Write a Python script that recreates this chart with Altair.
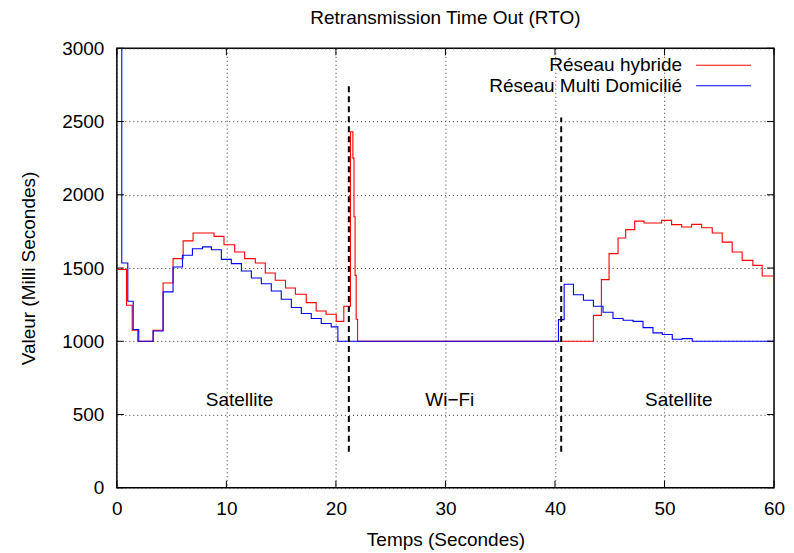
import altair as alt
import pandas as pd

# ---- data ----
hyb_t = [0, 0.88, 1.4, 1.91, 3.31, 4.22, 5.13, 6.05, 6.96, 8.87, 9.78, 10.76, 11.67, 12.64, 13.55,
         14.46, 15.4, 16.3, 17.29, 18.2, 19.1, 20.03, 20.72, 21.33, 21.55, 21.65, 21.75, 21.85, 21.98,
         43.51, 44.24, 44.94, 45.76, 46.46, 47.28, 48.13, 49.74, 50.65, 51.57, 52.48, 53.39, 54.36,
         55.27, 56.18, 57.09, 58.07, 58.92, 59.98, 60]
hyb_v = [1490, 1246, 1075, 1000, 1075, 1398, 1564, 1685, 1739, 1716, 1659, 1609, 1564, 1534, 1466,
         1416, 1364, 1321, 1264, 1207, 1184, 1136, 1239, 2430, 2250, 1850, 1450, 1150, 1000,
         1177, 1421, 1598, 1705, 1762, 1820, 1807, 1825, 1796, 1780, 1798, 1775, 1739,
         1677, 1609, 1552, 1518, 1445, 1393, 1393]

multi_t = [0, 0.45, 1.0, 1.49, 2.0, 3.31, 4.22, 5.13, 5.99, 6.9, 7.81, 8.63, 9.54, 10.45, 11.37,
           12.28, 13.19, 14.1, 15.01, 15.93, 16.84, 17.75, 18.66, 19.57, 20.18,
           40.32, 40.84, 41.69, 42.6, 43.51, 44.39, 45.3, 46.22, 47.13, 48.04, 48.95, 49.8,
           50.71, 51.62, 52.53, 60]
multi_v = [3500, 1534, 1273, 1080, 1000, 1070, 1337, 1507, 1587, 1632, 1644, 1625, 1559, 1530, 1480,
           1432, 1393, 1343, 1287, 1230, 1189, 1155, 1121, 1098, 1000,
           1148, 1389, 1318, 1280, 1239, 1198, 1155, 1143, 1136, 1093, 1057, 1046,
           1014, 1018, 1000, 1000]

series_names = ["Réseau hybride", "Réseau Multi Domicilié"]
series_colors = ["#ff0000", "#0000ff"]

handover_t = [21.18, 40.57]
handover_top = [2746, 2527]
handover_bottom = [245, 245]

zone_labels = ["Satellite", "Wi\u2212Fi", "Satellite"]
zone_t = [11.2, 30.4, 51.3]
zone_v = [600, 600, 600]

x_ticks = [0, 10, 20, 30, 40, 50, 60]
y_ticks = [0, 500, 1000, 1500, 2000, 2500, 3000]

FONT = "Liberation Sans"
W, H = 658, 440

lines_df = pd.concat([
    pd.DataFrame({"t": hyb_t, "v": hyb_v, "s": series_names[0]}),
    pd.DataFrame({"t": multi_t, "v": multi_v, "s": series_names[1]}),
])

xs = alt.Scale(domain=[0, 60], nice=False)
ys = alt.Scale(domain=[0, 3000], nice=False)

xaxis = alt.Axis(values=x_ticks, title="Temps (Secondes)", grid=True, ticks=False, domain=False,
                 format="d", labelPadding=12, titlePadding=12, labelFlush=False)
yaxis = alt.Axis(values=y_ticks, title="Valeur (Milli Secondes)", grid=True, ticks=False, domain=False,
                 format="d", labelPadding=13, titlePadding=23, labelFlush=False)

hyb = alt.Chart(lines_df[lines_df.s == series_names[0]]).mark_line(
    interpolate="step-after", strokeWidth=1.1, clip=True, color=series_colors[0]
).encode(
    x=alt.X("t:Q", scale=xs, axis=xaxis),
    y=alt.Y("v:Q", scale=ys, axis=yaxis),
)
multi = alt.Chart(lines_df[lines_df.s == series_names[1]]).mark_line(
    interpolate="step-after", strokeWidth=1.1, clip=True, color=series_colors[1]
).encode(x=alt.X("t:Q", scale=xs), y=alt.Y("v:Q", scale=ys))

ho_df = pd.DataFrame({"t": handover_t, "top": handover_top, "bot": handover_bottom})
handover = alt.Chart(ho_df).mark_rule(color="black", strokeWidth=2, strokeDash=[6, 4]).encode(
    x=alt.X("t:Q", scale=xs), y=alt.Y("bot:Q", scale=ys), y2="top:Q"
)

zone_df = pd.DataFrame({"lab": zone_labels, "t": zone_t, "v": zone_v})
zones = alt.Chart(zone_df).mark_text(font=FONT, fontSize=19, color="black").encode(
    x=alt.X("t:Q", scale=xs), y=alt.Y("v:Q", scale=ys), text="lab:N"
)

# inner (gnuplot-style) tick marks
xt_df = pd.DataFrame({"t": x_ticks})
yt_df = pd.DataFrame({"v": y_ticks})
xt_bottom = alt.Chart(xt_df).mark_rule(color="black", strokeWidth=1).encode(
    x=alt.X("t:Q", scale=xs), y=alt.value(H), y2=alt.value(H - 7))
xt_top = alt.Chart(xt_df).mark_rule(color="black", strokeWidth=1).encode(
    x=alt.X("t:Q", scale=xs), y=alt.value(0), y2=alt.value(7))
yt_left = alt.Chart(yt_df).mark_rule(color="black", strokeWidth=1).encode(
    y=alt.Y("v:Q", scale=ys), x=alt.value(0), x2=alt.value(7))
yt_right = alt.Chart(yt_df).mark_rule(color="black", strokeWidth=1).encode(
    y=alt.Y("v:Q", scale=ys), x=alt.value(W), x2=alt.value(W - 7))

# legend (gnuplot style: label then line sample)
leg_df = pd.DataFrame({"s": series_names, "c": series_colors, "ypix": [17, 37.5]})
leg_text = alt.Chart(leg_df).mark_text(font=FONT, fontSize=19, align="right", baseline="middle",
                                       color="black").encode(
    x=alt.value(566), y=alt.Y("ypix:Q", scale=None), text="s:N")
leg_lines = alt.Chart(leg_df).mark_rule(strokeWidth=1.1).encode(
    x=alt.value(580), x2=alt.value(635), y=alt.Y("ypix:Q", scale=None),
    color=alt.Color("c:N", scale=None))

chart = alt.layer(
    hyb, multi, handover, zones, xt_bottom, xt_top, yt_left, yt_right, leg_text, leg_lines
).properties(
    width=W, height=H,
    background="white",
    title=alt.Title("Retransmission Time Out (RTO)", font=FONT, fontSize=19, fontWeight="normal",
                    color="black", offset=11),
    autosize=alt.AutoSizeParams(type="none"),
    padding={"left": 109, "top": 40, "right": 12, "bottom": 65},
).configure_view(
    stroke="black", strokeWidth=1.5
).configure_axis(
    labelFont=FONT, labelFontSize=19, labelColor="black",
    titleFont=FONT, titleFontSize=19, titleFontWeight="normal", titleColor="black",
    gridColor="#333333", gridDash=[1, 3], gridOpacity=1, gridWidth=1,
)

chart.save("out.html", embed_options={"renderer": "svg", "actions": False})
